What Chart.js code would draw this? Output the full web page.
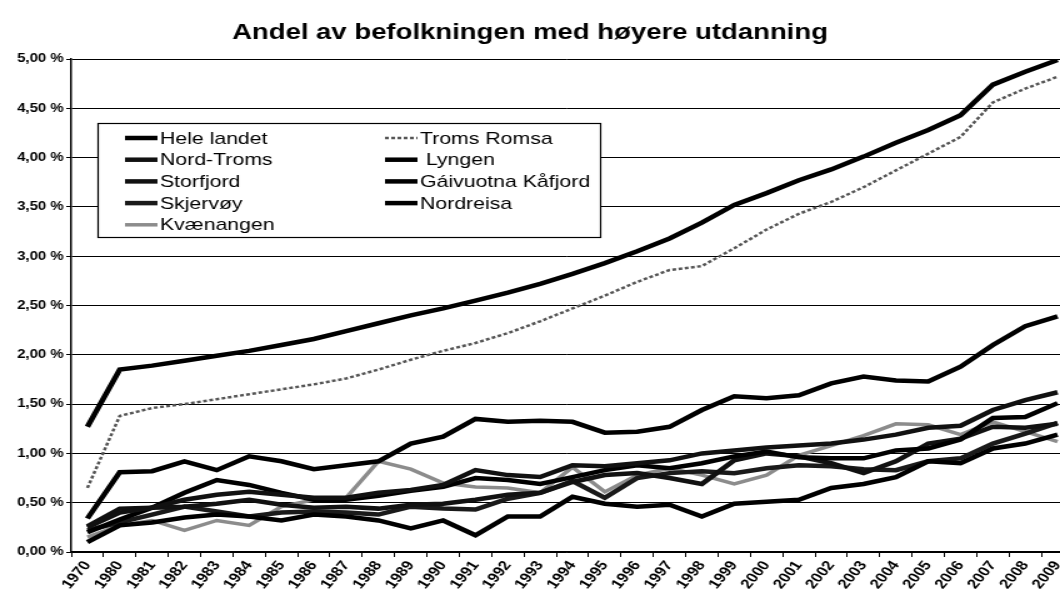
<!DOCTYPE html>
<html>
<head>
<meta charset="utf-8">
<script src="https://cdn.jsdelivr.net/npm/chart.js@4.4.1/dist/chart.umd.min.js"></script>
<style>
    html, body { margin: 0; padding: 0; background: #fff; }
    #chart { display: block; }
</style>
</head>
<body>
<!-- the source picture is stretched sideways, so the canvas is drawn narrow and widened by its inline style -->
<canvas id="chart" width="848" height="598" style="width:1060px;height:598px"></canvas>
<script>
const years = ['1970', '1980', '1981', '1982', '1983', '1984', '1985', '1986', '1987', '1988',
    '1989', '1990', '1991', '1992', '1993', '1994', '1995', '1996', '1997', '1998', '1999',
    '2000', '2001', '2002', '2003', '2004', '2005', '2006', '2007', '2008', '2009'];

const heleLandet = [1.27, 1.85, 1.89, 1.94, 1.99, 2.04, 2.10, 2.16, 2.24, 2.32, 2.40, 2.47, 2.55,
    2.63, 2.72, 2.82, 2.93, 3.05, 3.18, 3.34, 3.52, 3.64, 3.77, 3.88, 4.01, 4.15, 4.28, 4.43, 4.74, 4.87, 4.99];
const tromsRomsa = [0.65, 1.38, 1.46, 1.50, 1.55, 1.60, 1.65, 1.70, 1.76, 1.85, 1.95, 2.04, 2.12,
    2.22, 2.34, 2.47, 2.60, 2.74, 2.86, 2.90, 3.08, 3.27, 3.43, 3.55, 3.70, 3.87, 4.04, 4.21, 4.56, 4.70, 4.82];
const nordTroms = [0.25, 0.40, 0.45, 0.53, 0.58, 0.61, 0.58, 0.55, 0.55, 0.60, 0.63, 0.68, 0.83,
    0.78, 0.76, 0.88, 0.87, 0.90, 0.93, 1.00, 1.03, 1.06, 1.08, 1.10, 1.14, 1.19, 1.26, 1.28, 1.44, 1.54, 1.62];
const lyngen = [0.20, 0.33, 0.45, 0.60, 0.73, 0.68, 0.60, 0.53, 0.53, 0.57, 0.62, 0.66, 0.75,
    0.73, 0.69, 0.76, 0.83, 0.88, 0.85, 0.90, 0.97, 1.02, 0.96, 0.95, 0.95, 1.03, 1.05, 1.14, 1.36, 1.37, 1.51];
const storfjord = [0.26, 0.44, 0.45, 0.46, 0.49, 0.53, 0.48, 0.45, 0.46, 0.44, 0.48, 0.49, 0.53,
    0.58, 0.60, 0.71, 0.78, 0.80, 0.75, 0.69, 0.93, 1.00, 0.97, 0.90, 0.80, 0.92, 1.10, 1.15, 1.27, 1.26, 1.30];
const kafjord = [0.10, 0.27, 0.30, 0.35, 0.38, 0.36, 0.32, 0.38, 0.36, 0.32, 0.24, 0.32, 0.17,
    0.36, 0.36, 0.56, 0.49, 0.46, 0.48, 0.36, 0.49, 0.51, 0.53, 0.65, 0.69, 0.76, 0.92, 0.90, 1.05, 1.10, 1.19];
const skjervoy = [0.22, 0.30, 0.38, 0.46, 0.41, 0.36, 0.40, 0.41, 0.40, 0.38, 0.46, 0.44, 0.43,
    0.54, 0.60, 0.72, 0.55, 0.75, 0.80, 0.82, 0.80, 0.85, 0.88, 0.87, 0.84, 0.83, 0.92, 0.95, 1.10, 1.20, 1.31];
const nordreisa = [0.34, 0.81, 0.82, 0.92, 0.83, 0.97, 0.92, 0.84, 0.88, 0.92, 1.10, 1.17, 1.35,
    1.32, 1.33, 1.32, 1.21, 1.22, 1.27, 1.44, 1.58, 1.56, 1.59, 1.71, 1.78, 1.74, 1.73, 1.88, 2.10, 2.29, 2.39];
const kvaenangen = [0.15, 0.27, 0.32, 0.22, 0.32, 0.27, 0.46, 0.53, 0.55, 0.92, 0.84, 0.70, 0.66,
    0.65, 0.60, 0.86, 0.61, 0.78, 0.85, 0.78, 0.69, 0.78, 0.98, 1.08, 1.18, 1.30, 1.29, 1.19, 1.32, 1.22, 1.12];

const FONT = '"Liberation Sans", Arial, sans-serif';

function series(label, data, color, width, dash) {
    return {
        label,
        data,
        borderColor: color,
        backgroundColor: color,
        borderWidth: width,
        borderDash: dash || [],
        pointRadius: 0,
        tension: 0,
        fill: false,
    };
}

// Pin the plot area so it runs past the right edge, as in the scanned original.
const fixedArea = {
    id: 'fixedArea',
    afterLayout(chart) {
        const area = { left: 57, top: 59, right: 859, bottom: 552 };
        const { x, y } = chart.scales;
        Object.assign(chart.chartArea, area, {
            width: area.right - area.left,
            height: area.bottom - area.top,
        });
        Object.assign(x, { left: area.left, right: area.right, width: area.right - area.left,
            top: area.bottom, bottom: chart.height, height: chart.height - area.bottom });
        Object.assign(y, { left: 0, right: area.left, width: area.left,
            top: area.top, bottom: area.bottom, height: area.bottom - area.top });
        x.configure();
        y.configure();
    },
};

// Two-column boxed legend in the upper left of the plot.
const boxLegend = {
    id: 'boxLegend',
    afterDraw(chart) {
        const ctx = chart.ctx;
        const box = { left: 78, top: 123, right: 480, bottom: 237 };
        ctx.save();
        ctx.fillStyle = '#fff';
        ctx.fillRect(box.left, box.top, box.right - box.left, box.bottom - box.top);
        ctx.strokeStyle = '#000';
        ctx.lineWidth = 1.2;
        ctx.strokeRect(box.left + 0.5, box.top + 0.5, box.right - box.left, box.bottom - box.top);
        ctx.font = '17px ' + FONT;
        ctx.textBaseline = 'middle';
        chart.data.datasets.forEach((ds, i) => {
            const x0 = i % 2 ? 308 : 100;
            const yc = 138 + Math.floor(i / 2) * 21.7;
            ctx.beginPath();
            ctx.setLineDash(ds.borderDash);
            ctx.strokeStyle = ds.borderColor;
            ctx.lineWidth = ds.borderWidth;
            ctx.moveTo(x0, yc);
            ctx.lineTo(x0 + 26, yc);
            ctx.stroke();
            ctx.setLineDash([]);
            ctx.fillStyle = '#000';
            ctx.fillText(ds.label, x0 + 28, yc + 1);
        });
        ctx.restore();
    },
};

new Chart(document.getElementById('chart'), {
    type: 'line',
    data: {
        labels: years,
        datasets: [
            series('Hele landet', heleLandet, '#000', 4.5),
            series('Troms Romsa', tromsRomsa, '#555', 2.5, [3, 2]),
            series('Nord-Troms', nordTroms, '#111', 4.5),
            series(' Lyngen', lyngen, '#000', 4.5),
            series('Storfjord', storfjord, '#111', 4.5),
            series('Gáivuotna Kåfjord', kafjord, '#000', 4.5),
            series('Skjervøy', skjervoy, '#1a1a1a', 4.5),
            series('Nordreisa', nordreisa, '#000', 4.5),
            series('Kvænangen', kvaenangen, '#8c8c8c', 3.5),
        ],
    },
    options: {
        responsive: false,
        devicePixelRatio: 1,
        animation: false,
        plugins: {
            legend: { display: false },
            tooltip: { enabled: false },
            title: {
                display: true,
                text: 'Andel av befolkningen med høyere utdanning',
                color: '#000',
                font: { family: FONT, size: 22, weight: 'bold' },
                padding: { top: 20, bottom: 12.6 },
            },
        },
        scales: {
            x: {
                offset: true,
                grid: { offset: true, drawOnChartArea: false, drawTicks: true, tickLength: 5, color: '#000' },
                border: { display: true, color: '#000', width: 1.5 },
                ticks: {
                    autoSkip: false,
                    minRotation: 55,
                    maxRotation: 55,
                    padding: 1,
                    color: '#000',
                    font: { family: FONT, size: 13.5, weight: 'bold' },
                },
            },
            y: {
                min: 0,
                max: 5,
                grid: { color: '#000', lineWidth: 1, tickLength: 4 },
                border: { display: true, color: '#000', width: 1.5 },
                ticks: {
                    stepSize: 0.5,
                    padding: 2,
                    color: '#000',
                    font: { family: FONT, size: 12, weight: 'bold' },
                    callback: (v) => v.toFixed(2).replace('.', ',') + ' %',
                },
            },
        },
    },
    plugins: [fixedArea, boxLegend],
});
</script>
</body>
</html>
